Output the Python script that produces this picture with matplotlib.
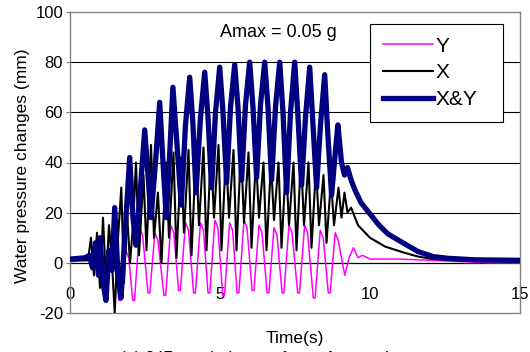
import matplotlib
matplotlib.use('Agg')
import matplotlib.pyplot as plt

# Values (time in s, water pressure change in mm)

# Y excitation (magenta)
y_time = [0.0, 0.6, 0.8, 1.0, 1.2, 1.4, 1.5,
          1.63, 1.69, 1.86, 1.96,
          2.09, 2.15, 2.32, 2.42,
          2.60, 2.66, 2.83, 2.93,
          3.13, 3.19, 3.36, 3.46,
          3.62, 3.68, 3.85, 3.95,
          4.12, 4.18, 4.35, 4.45,
          4.60, 4.66, 4.83, 4.93,
          5.09, 5.15, 5.32, 5.42,
          5.57, 5.63, 5.80, 5.90,
          6.07, 6.13, 6.30, 6.40,
          6.57, 6.63, 6.80, 6.90,
          7.07, 7.13, 7.30, 7.40,
          7.59, 7.65, 7.82, 7.92,
          8.11, 8.17, 8.34, 8.44,
          8.61, 8.67, 8.84, 8.94,
          9.16, 9.30, 9.45, 9.60, 9.75, 10.0, 10.5, 11.0, 12.0, 13.0, 14.0, 15.0]
y_val = [0.5, 1, -1, 2, -4, 3, -2,
         -15, -15, 5, 2,
         -15, -15, 14, 11,
         -12, -12, 12, 9,
         -13, -13, 15, 12,
         -11, -11, 16, 13,
         -12, -12, 16, 13,
         -12, -12, 17, 14,
         -13, -13, 16, 13,
         -12, -12, 17, 14,
         -11, -11, 15, 12,
         -12, -12, 14, 11,
         -12, -12, 15, 12,
         -12, -12, 15, 12,
         -14, -14, 13, 10,
         -12, -12, 12, 9,
         -5, 2, 6, 2, 3, 1.5, 1.5, 1.5, 1, 0.5, 0, 0]

# X excitation (black)
x_time = [0.0, 0.6, 0.7, 0.8, 0.9, 1.0, 1.1, 1.2, 1.3, 1.4, 1.49, 1.6, 1.71, 1.8, 1.9,
          2.0, 2.1, 2.2, 2.3, 2.45, 2.55, 2.7, 2.8, 2.93, 3.05, 3.2, 3.3, 3.45, 3.55,
          3.7, 3.8, 3.95, 4.05, 4.2, 4.3, 4.45, 4.55, 4.7, 4.8, 4.95, 5.05, 5.2, 5.3,
          5.45, 5.55, 5.7, 5.8, 5.95, 6.05, 6.2, 6.3, 6.45, 6.55, 6.7, 6.8, 6.95, 7.05,
          7.2, 7.3, 7.45, 7.55, 7.7, 7.8, 7.95, 8.05, 8.2, 8.3, 8.45, 8.55, 8.7, 8.8,
          8.95, 9.05, 9.15, 9.25, 9.37, 9.6, 10.0, 10.5, 11.15, 11.6, 12.1, 13.0, 15.0]
x_val = [1, 1, 10, -5, 12, -10, 18, -8, 15, 0, -20, 10, 30, -8, 20,
         0, 15, 40, 3, 35, 5, 47, 10, 28, 0, 40, 10, 44, 2,
         42, 12, 45, 3, 44, 15, 46, 5, 45, 18, 47, 5, 44, 18,
         45, 5, 46, 16, 44, 6, 42, 18, 40, 5, 40, 17, 40, 6,
         40, 15, 40, 5, 42, 15, 40, 6, 38, 15, 35, 8, 33, 15,
         30, 18, 28, 20, 22, 15, 10, 6.5, 4, 2.5, 1.5, 1, 0.5]

# X&Y excitation (navy)
xy_time = [0.0, 0.5, 0.65, 0.75, 0.85, 0.95, 1.0, 1.1, 1.2, 1.3, 1.4, 1.49, 1.6, 1.7,
           1.85, 1.99, 2.1, 2.2, 2.35, 2.49, 2.6, 2.7, 2.85, 2.99, 3.1, 3.21, 3.33,
           3.43, 3.55, 3.71, 3.85, 3.99, 4.1, 4.2, 4.35, 4.49, 4.6, 4.72, 4.85, 4.99,
           5.1, 5.22, 5.35, 5.49, 5.6, 5.72, 5.85, 5.99, 6.1, 6.22, 6.35, 6.49, 6.6,
           6.72, 6.85, 6.99, 7.1, 7.22, 7.35, 7.49, 7.6, 7.72, 7.85, 7.99, 8.1, 8.22,
           8.35, 8.49, 8.6, 8.72, 8.85, 8.93, 9.05, 9.15, 9.25, 9.37, 9.5, 9.7, 10.0,
           10.3, 10.6, 11.15, 11.6, 12.1, 12.6, 13.5, 15.0]
xy_val = [1.5, 2, 3, -2, 8, -5, 10, -8, -15, 5, -3, 22, -5, -14,
          15, 42, 18, 7, 30, 53, 35, 18, 40, 64, 40, 18, 45,
          70, 50, 23, 55, 74, 55, 28, 58, 76, 58, 30, 60, 78,
          60, 32, 62, 79, 62, 33, 63, 80, 62, 34, 63, 80, 62,
          33, 62, 80, 60, 28, 60, 80, 58, 31, 58, 78, 55, 30,
          55, 75, 50, 27, 45, 55, 40, 35, 38, 33, 29, 24, 19.5,
          15, 11.5, 7.6, 4.5, 2.5, 1.8, 1.2, 1]

y_ticks = [-20, 0, 20, 40, 60, 80, 100]
x_ticks = [0, 5, 10, 15]

plt.rcParams['font.family'] = ['Liberation Sans', 'DejaVu Sans']
plt.rcParams['axes.unicode_minus'] = False

fig = plt.figure(figsize=(5.3, 3.52), dpi=100)
ax = fig.add_axes([70 / 530, 1 - 313 / 352, 450 / 530, 301 / 352])

# horizontal grid lines and the zero axis
for level in [20, 40, 60, 80]:
    ax.axhline(level, color='black', lw=0.8, zorder=1)
ax.axhline(0, color='black', lw=0.9, zorder=1)

ax.plot(y_time, y_val, color='#FF00FF', lw=1.1, label='Y', zorder=2)
ax.plot(x_time, x_val, color='black', lw=1.5, label='X', zorder=3)
ax.plot(xy_time, xy_val, color='#000080', lw=3.8, label='X&Y', zorder=4)

ax.set_xlim(0, 15)
ax.set_ylim(-20, 100)
ax.set_yticks(y_ticks)
ax.set_xticks(x_ticks)
ax.tick_params(axis='y', labelsize=12, length=3, color='#808080', pad=2)
ax.tick_params(axis='x', labelsize=12, length=0, pad=-19)

for sp in ax.spines.values():
    sp.set_color('#808080')
    sp.set_linewidth(1.0)

ax.set_ylabel('Water pressure changes (mm)', fontsize=12.5)
ax.yaxis.set_label_coords(-0.089, 0.49)
ax.set_xlabel('Time(s)', fontsize=12.5)
ax.xaxis.set_label_coords(0.5, -0.06)

ax.text(5.0, 92, 'Amax = 0.05 g', fontsize=13, va='center', ha='left')

# legend box spans x 370-503, y 24-118 px in the source
leg = ax.legend(loc='upper left',
                bbox_to_anchor=(370 / 530, 1 - 118 / 352, 133 / 530, 94 / 352),
                bbox_transform=fig.transFigure, mode='expand', fontsize=15,
                frameon=True, fancybox=False, edgecolor='black', framealpha=1,
                handlelength=2.4, handletextpad=0.15, labelspacing=0.38,
                borderpad=0.6, borderaxespad=0)
leg.get_frame().set_linewidth(0.8)

# caption under the chart, cut off by the image edge as in the source
fig.text(120 / 530, 0.003, '(a) 347 mm below surface of ground', fontsize=12, va='top')

plt.savefig('out.png', dpi=100)
plt.close()
